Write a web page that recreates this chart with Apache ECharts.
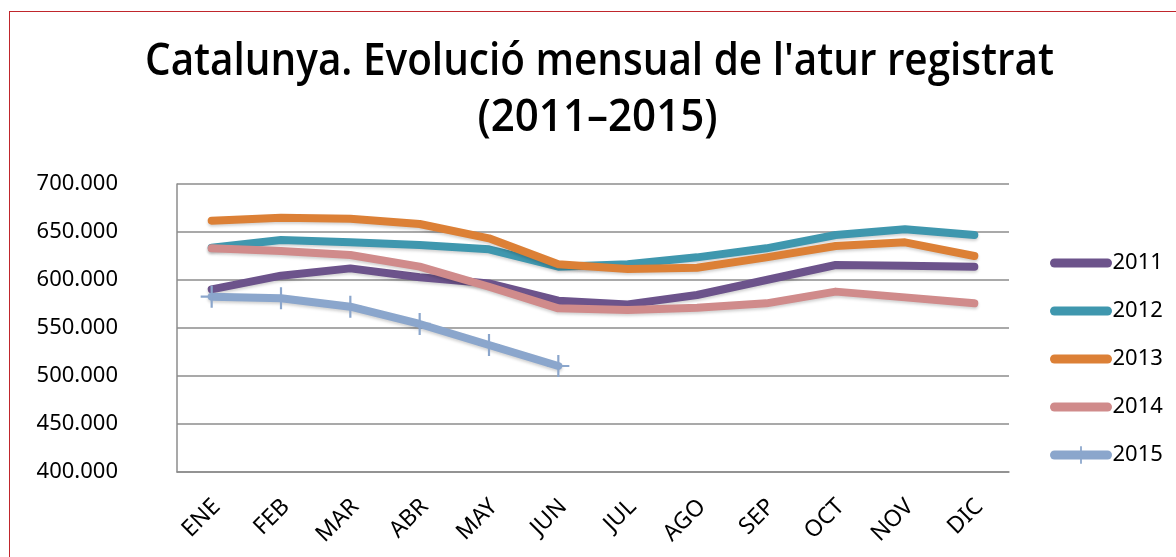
<!DOCTYPE html>
<html>
<head>
<meta charset="utf-8">
<script src="https://cdn.jsdelivr.net/npm/echarts@6/dist/echarts.min.js"></script>
<style>
  html, body { margin: 0; padding: 0; background: #fff; }
  #chart { width: 1176px; height: 557px; }
  .frame {
    position: absolute; left: 9px; top: 11px; width: 1300px; height: 700px;
    border-left: 1.5px solid #c0262c; border-top: 1.5px solid #c0262c;
    pointer-events: none;
  }
</style>
</head>
<body>
<div id="chart"></div>
<div class="frame"></div>
<script>
// meses
const months = ['ENE', 'FEB', 'MAR', 'ABR', 'MAY', 'JUN', 'JUL', 'AGO', 'SEP', 'OCT', 'NOV', 'DIC'];
// atur registrat per any
const atur2011 = [590300, 604500, 612100, 602800, 596500, 578500, 574600, 584400, 600000, 615600, 614900, 613900];
const atur2012 = [633700, 641700, 639200, 636500, 632000, 613900, 616300, 623600, 633000, 646900, 652800, 646900];
const atur2013 = [661800, 664900, 663900, 658300, 643400, 616300, 611500, 612800, 623600, 635400, 639200, 625000];
const atur2014 = [633000, 630200, 626000, 613900, 593000, 570500, 568700, 571200, 575700, 587900, 581900, 575700];
const atur2015 = [582600, 580900, 572200, 554200, 532300, 510400];
const yearNames = ['2011', '2012', '2013', '2014', '2015'];
const yearColors = ['#6c538b', '#3f97ae', '#dc8036', '#d08b8b', '#8ba6cc'];
const titleLines = ["Catalunya. Evolució mensual de l'atur registrat", '(2011–2015)'];

const chart = echarts.init(document.getElementById('chart'));

// el titol original es una lletra estreta: s'escala en horitzontal
const titleFont = '600 46px "Open Sans", "Noto Sans", sans-serif';
const ctx = document.createElement('canvas').getContext('2d');
ctx.font = titleFont;
const titleScale = 909 / ctx.measureText(titleLines[0]).width;

const plus = 'path://M9,0h2v9h9v2h-9v9h-2v-9h-9v-2h9z';

function makeSeries(name, data, color, hasMarker) {
  return {
    name: name,
    type: 'line',
    data: data,
    symbol: hasMarker ? plus : 'none',
    symbolSize: 22,
    showSymbol: hasMarker,
    itemStyle: { color: color },
    lineStyle: {
      color: color, width: 8, cap: 'round', join: 'round',
      shadowColor: 'rgba(0,0,0,0.18)', shadowBlur: 3, shadowOffsetY: 2
    },
    emphasis: { disabled: true }
  };
}

chart.setOption({
  animation: false,
  graphic: [
    {
      type: 'text', x: 599.5, y: 62, scaleX: titleScale,
      style: { text: titleLines[0], font: titleFont, fill: '#000', align: 'center', verticalAlign: 'middle' }
    },
    {
      type: 'text', x: 597.5, y: 118, scaleX: titleScale * 1.04,
      style: { text: titleLines[1], font: titleFont, fill: '#000', align: 'center', verticalAlign: 'middle' }
    }
  ],
  grid: { left: 177, top: 184, right: 167, bottom: 85 },
  legend: {
    orient: 'vertical',
    left: 1050,
    top: 252,
    padding: 0,
    itemWidth: 53,
    itemHeight: 22,
    itemGap: 26,
    lineStyle: { width: 9, cap: 'round' },
    textStyle: { fontFamily: '"Noto Sans", sans-serif', fontSize: 22, color: '#000' },
    data: yearNames.map(function (n, i) {
      return i < 4 ? { name: n, itemStyle: { opacity: 0 } } : { name: n };
    })
  },
  xAxis: {
    type: 'category',
    data: months,
    boundaryGap: true,
    axisLine: { show: true, lineStyle: { color: '#8c8c8c', width: 1.5 } },
    axisTick: { show: false },
    axisLabel: {
      rotate: 45,
      margin: 36,
      padding: [0, -7, 0, 0],
      fontFamily: '"Noto Sans", sans-serif',
      fontSize: 23,
      color: '#000'
    }
  },
  yAxis: {
    type: 'value',
    min: 400000,
    max: 700000,
    interval: 50000,
    axisLine: { show: true, lineStyle: { color: '#8c8c8c', width: 1.5 } },
    axisTick: { show: false },
    splitLine: { lineStyle: { color: '#8c8c8c', width: 1.5 } },
    axisLabel: {
      margin: 59,
      fontFamily: '"Noto Sans", sans-serif',
      fontSize: 22,
      color: '#000',
      formatter: function (v) { return (v / 1000).toFixed(3); }
    }
  },
  series: [
    makeSeries(yearNames[0], atur2011, yearColors[0], false),
    makeSeries(yearNames[1], atur2012, yearColors[1], false),
    makeSeries(yearNames[2], atur2013, yearColors[2], false),
    makeSeries(yearNames[3], atur2014, yearColors[3], false),
    makeSeries(yearNames[4], atur2015, yearColors[4], true)
  ]
});

window.onresize = function () { chart.resize(); };
</script>
</body>
</html>
